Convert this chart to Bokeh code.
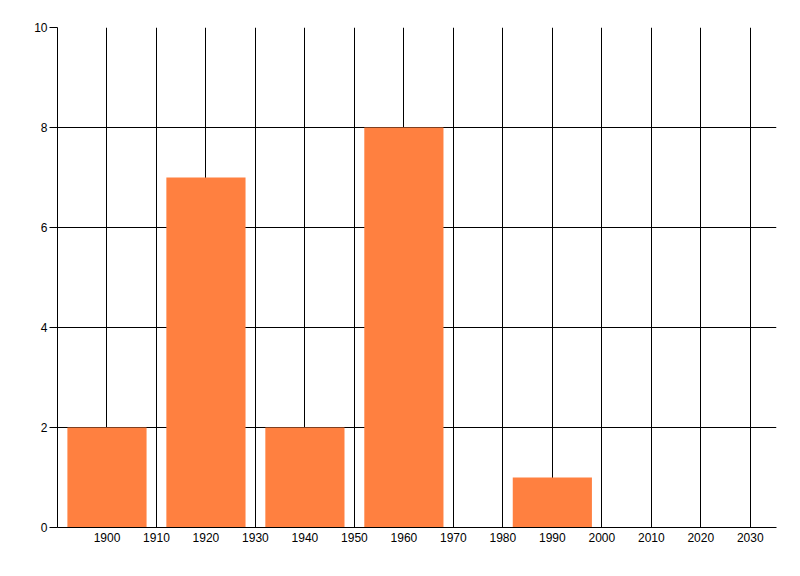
from bokeh.plotting import figure
from bokeh.models import FixedTicker, Range1d
from bokeh.embed import file_html
from bokeh.resources import INLINE

years = [1900, 1920, 1940, 1960, 1990]
counts = [2, 7, 2, 8, 1]
x_ticks = [1900, 1910, 1920, 1930, 1940, 1950, 1960, 1970, 1980, 1990, 2000, 2010, 2020, 2030]
y_ticks = [0, 2, 4, 6, 8, 10]

p = figure(width=792, height=568, output_backend="svg", toolbar_location=None,
           x_range=Range1d(1890, 2035.3), y_range=Range1d(0, 10),
           min_border_left=57, min_border_top=27, min_border_right=16, min_border_bottom=41)
p.outline_line_color = None
p.background_fill_color = "white"
p.border_fill_color = "white"

p.vbar(x=years, top=counts, width=16, bottom=0, fill_color="#FF8040", line_color=None)

for ax in (p.xaxis[0], p.yaxis[0]):
    ax.axis_line_color = "black"
    ax.major_label_text_font = "Liberation Sans"
    ax.major_label_text_font_size = "12px"
    ax.major_label_text_color = "black"
    ax.minor_tick_line_color = None
    ax.major_tick_line_color = "black"

p.xaxis.ticker = FixedTicker(ticks=x_ticks)
p.yaxis.ticker = FixedTicker(ticks=y_ticks)
p.xaxis.major_tick_out = 0
p.xaxis.major_tick_in = 0
p.xaxis.major_label_standoff = 5
p.yaxis.major_tick_out = 8
p.yaxis.major_tick_in = 0
p.yaxis.major_label_standoff = 2

p.xgrid.ticker = FixedTicker(ticks=x_ticks)
p.ygrid.ticker = FixedTicker(ticks=y_ticks)
p.grid.grid_line_color = "black"
p.grid.grid_line_width = 1

open("out.html", "w").write(file_html(p, INLINE))
